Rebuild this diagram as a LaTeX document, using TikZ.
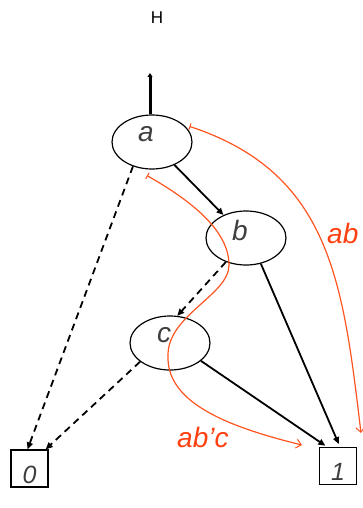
\documentclass[tikz,border=0pt]{standalone}
\usepackage{fontspec}
\setmainfont{Liberation Sans}
\usetikzlibrary{arrows.meta,positioning,shapes.geometric}
\definecolor{pathorange}{HTML}{FF5420}
\definecolor{textorange}{HTML}{FF4010}
\definecolor{labelgray}{HTML}{3F3F3F}

\begin{document}
\begin{tikzpicture}[
  x=1pt, y=-1pt,
  varlabel/.style={font=\fontsize{28}{30}\selectfont\itshape, text=labelgray,
                   xshift=-6pt, yshift=8pt},
  digitlabel/.style={font=\fontsize{25}{27}\selectfont\itshape, text=labelgray,
                     yshift=-6pt},
  bddnode/.style={draw, ellipse, line width=1.2pt, inner sep=0pt,
                  minimum width=80pt, minimum height=54pt,
                  label={[varlabel]center:#1}},
  leaf/.style={draw, rectangle, line width=1.3pt, inner sep=0pt,
               minimum width=37pt, minimum height=37pt,
               label={[digitlabel]center:#1}},
  higharc/.style={-{Triangle[length=7pt,width=6pt]}, line width=1.8pt},
  lowarc/.style={higharc, dash pattern=on 7pt off 5pt},
  patharc/.style={{Bar[width=7pt,line width=1pt]}-{Straight Barb[length=5pt,width=9pt,line width=1pt]},
                  pathorange, line width=1.2pt},
  pathtext/.style={font=\fontsize{28}{30}\selectfont\itshape, text=textorange,
                   inner sep=0pt, anchor=base west}
]
  \useasboundingbox (0,0) rectangle (362,508);

  %% variable nodes and terminals
  \node[bddnode=a] (a) at (152,142) {};
  \node[bddnode=b] (b) at (246,238) {};
  \node[bddnode=c] (c) at (170,343) {};
  \node[leaf=0] (zero) at (29.5,468.5) {};
  \node[leaf=1] (one) at (338,466) {};

  %% root pointer
  \node[font=\fontsize{17}{19}\selectfont] (root) at (157,18) {H};
  \coordinate (rootend) at (150,73);
  \draw[-{Triangle[length=4pt,width=5pt]}, line width=3pt]
    ([xshift=-2pt]a.north) -- (rootend);

  %% high (solid) and low (dashed) edges
  \draw[higharc] (a) -- (b);
  \draw[lowarc] (a.232) -- ([xshift=-2pt]zero.north);
  \draw[lowarc] (b.230) -- (c.75);
  \draw[higharc, shorten >=3pt] (b.300) -- ([xshift=2pt]one.north);
  \draw[lowarc] (c.212) -- ([xshift=-3pt]zero.north east);
  \draw[higharc, shorten >=2pt] (c.330) -- ([xshift=-11pt]one.north);

  %% paths to 1
  \coordinate (abend) at (361,433);
  \coordinate (abcend) at (302,445);
  \draw[patharc] ([xshift=4pt]a.25) .. controls (331,173) and (343,283) .. (abend);
  \draw[patharc] ([xshift=-5pt,yshift=-6pt]a.south)
    .. controls (190,200) and (229,230) .. (229,265)
    .. controls (229,295) and (168,315) .. (168,355)
    .. controls (166,400) and (220,425) .. (abcend);
  \node[pathtext] (abtext) at (327,243) {ab};
  \node[pathtext] (abctext) at (177,447) {ab’c};
\end{tikzpicture}
\end{document}
